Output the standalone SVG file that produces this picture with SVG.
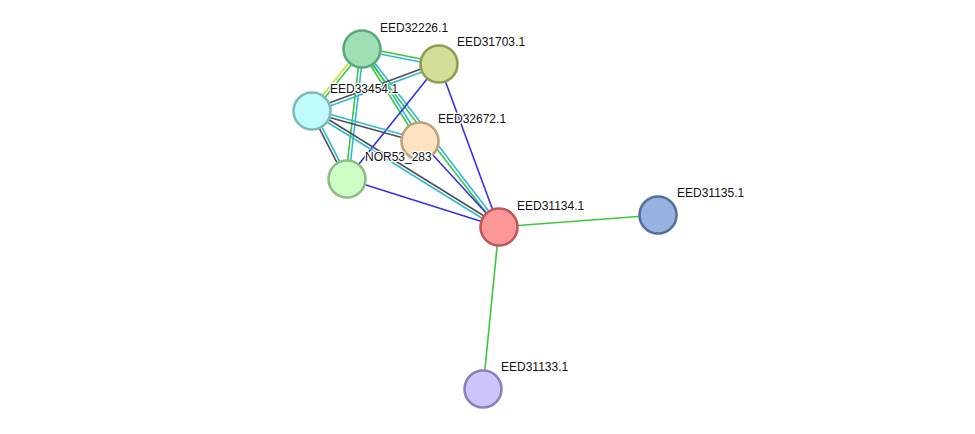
<svg xmlns="http://www.w3.org/2000/svg" width="975" height="434" viewBox="0 0 975 434">
<style>
.e{stroke-width:1.6;fill:none}
.g{stroke:#3cc83c}.c{stroke:#33b8d8}.k{stroke:#505050}.b{stroke:#3232ee}.y{stroke:#c8dc3c}
.n{stroke-width:2.6}
text{font-family:"Liberation Sans",Arial,sans-serif;font-size:12px;fill:#111;paint-order:stroke;stroke:#fff;stroke-width:2.5;stroke-linejoin:round}
</style>
<rect width="975" height="434" fill="#fff"/>
<g id="edges">
<line class="e g" x1="362.3" y1="47.5" x2="439.3" y2="62.5"/>
<line class="e c" x1="361.7" y1="50.5" x2="438.7" y2="65.5"/>
<line class="e y" x1="360.8" y1="48.1" x2="310.8" y2="110.1"/>
<line class="e g" x1="363.2" y1="49.9" x2="313.2" y2="111.9"/>
<line class="e g" x1="360.5" y1="48.8" x2="345.5" y2="178.8"/>
<line class="e c" x1="363.5" y1="49.2" x2="348.5" y2="179.2"/>
<line class="e g" x1="360.7" y1="49.8" x2="418.7" y2="141.8"/>
<line class="e c" x1="363.3" y1="48.2" x2="421.3" y2="140.2"/>
<line class="e g" x1="360.8" y1="49.9" x2="497.8" y2="227.9"/>
<line class="e c" x1="363.2" y1="48.1" x2="500.2" y2="226.1"/>
<line class="e k" x1="438.5" y1="62.6" x2="311.5" y2="109.6"/>
<line class="e c" x1="439.5" y1="65.4" x2="312.5" y2="112.4"/>
<line class="e b" x1="439" y1="64" x2="347" y2="179"/>
<line class="e b" x1="439" y1="64" x2="499" y2="227"/>
<line class="e c" x1="312.4" y1="109.6" x2="420.4" y2="139.6"/>
<line class="e k" x1="311.6" y1="112.4" x2="419.6" y2="142.4"/>
<line class="e k" x1="310.7" y1="111.7" x2="345.7" y2="179.7"/>
<line class="e c" x1="313.3" y1="110.3" x2="348.3" y2="178.3"/>
<line class="e k" x1="312.8" y1="109.7" x2="499.8" y2="225.7"/>
<line class="e c" x1="311.2" y1="112.3" x2="498.2" y2="228.3"/>
<line class="e b" x1="420" y1="141" x2="499" y2="227"/>
<line class="e b" x1="347" y1="179" x2="499" y2="227"/>
<line class="e g" x1="499" y1="227" x2="658" y2="215"/>
<line class="e g" x1="499" y1="227" x2="483" y2="389"/>
</g>
<g id="EED32226.1"><circle class="n" cx="362" cy="49" r="18.5" fill="#9ee0b3" stroke="#5fa77b"/><text x="380" y="32">EED32226.1</text></g>
<g id="EED31703.1"><circle class="n" cx="439" cy="64" r="18.5" fill="#d3df97" stroke="#8e9c56"/><text x="457" y="46">EED31703.1</text></g>
<g id="EED33454.1"><circle class="n" cx="312" cy="111" r="18.5" fill="#c0fbfc" stroke="#7fb9b9"/><text x="330" y="93">EED33454.1</text></g>
<g id="EED32672.1"><circle class="n" cx="420" cy="141" r="18.5" fill="#fee3c3" stroke="#bca37b"/><text x="438" y="123">EED32672.1</text></g>
<g id="NOR53_283"><circle class="n" cx="347" cy="179" r="18.5" fill="#cdfdc4" stroke="#8dbd85"/><text x="365" y="161">NOR53_283</text></g>
<g id="EED31134.1"><circle class="n" cx="499" cy="227" r="18.5" fill="#fe9797" stroke="#c05858"/><text x="517" y="210">EED31134.1</text></g>
<g id="EED31135.1"><circle class="n" cx="658" cy="215" r="18.5" fill="#98b3df" stroke="#57709b"/><text x="677" y="197">EED31135.1</text></g>
<g id="EED31133.1"><circle class="n" cx="483" cy="389" r="18.5" fill="#ccc4fb" stroke="#8a80bc"/><text x="501" y="371">EED31133.1</text></g>
</svg>
